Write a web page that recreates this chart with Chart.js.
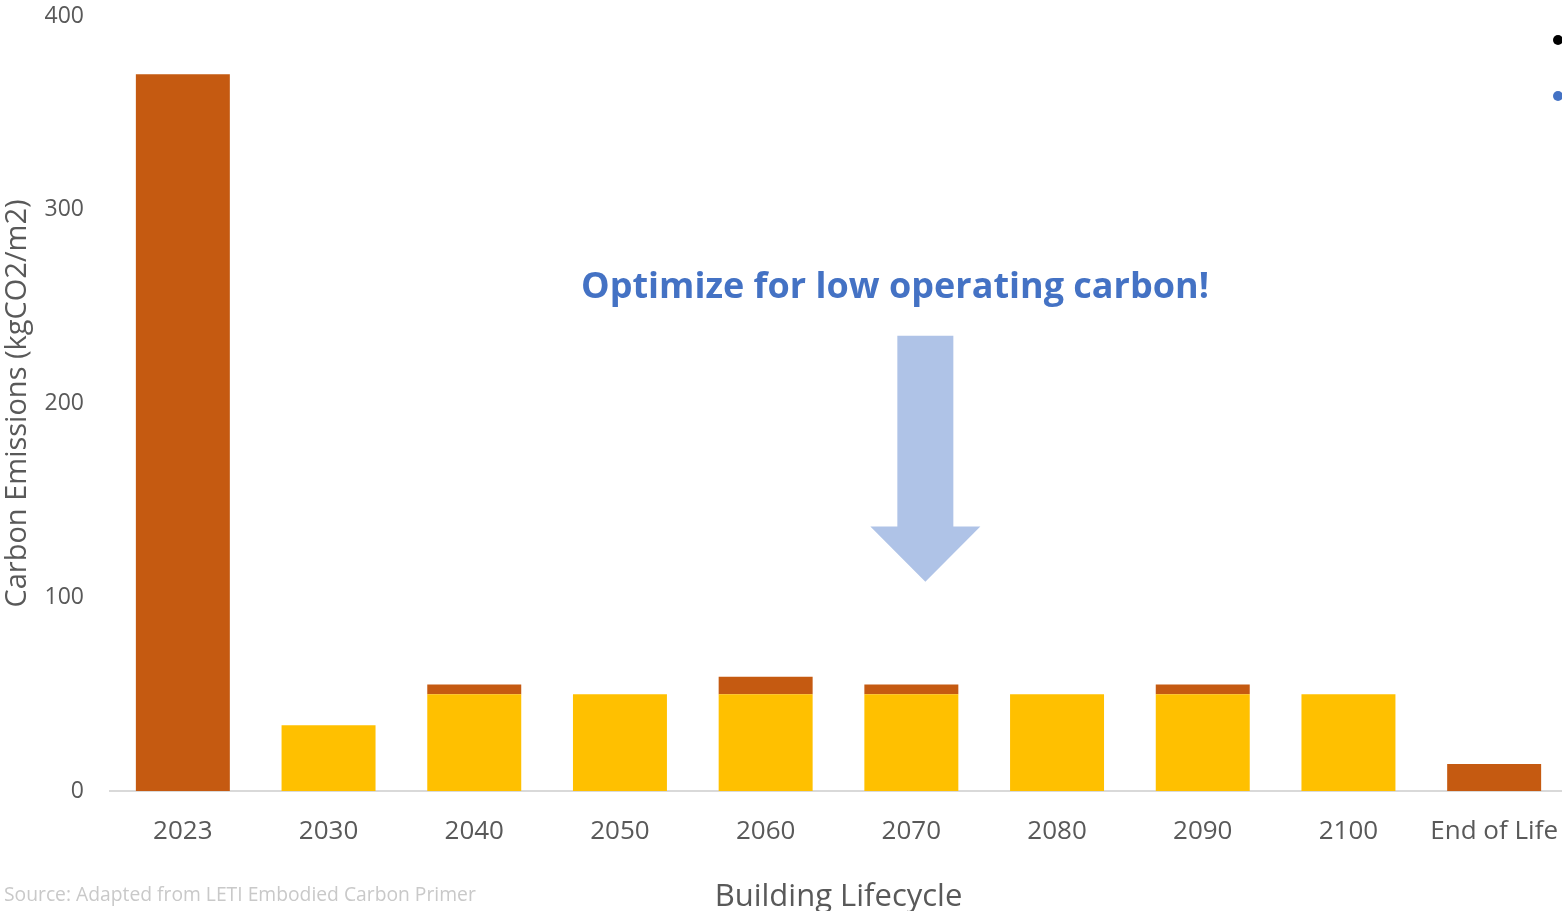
<!doctype html>
<html lang="en">
  <head>
    <meta charset="utf-8">
    <meta name="viewport" content="width=device-width, initial-scale=1">
    <title>Carbon Emissions over Building Lifecycle</title>
    <style>
      html, body { margin: 0; padding: 0; overflow: hidden; background: #fff; }
      #wrap { width: 1570px; height: 911px; position: relative; }
    </style>
  </head>
  <body>
    <div id="wrap"><canvas id="chart"></canvas></div>
  </body>
</html>
<script src="https://cdn.jsdelivr.net/npm/chart.js"></script>
<script>
const labels = ['2023','2030','2040','2050','2060','2070','2080','2090','2100','End of Life'];
const operational = [0, 34, 50, 50, 50, 50, 50, 50, 50, 0];
const embodied = [370, 0, 5, 0, 9, 5, 0, 5, 0, 14];
const yTicks = [0, 100, 200, 300, 400];

const FONT = "'Open Sans', sans-serif";

// headline, arrow, source note and the two clipped marker dots
const extras = {
    id: 'extras',
    afterDatasetsDraw(chart) {
        const { ctx, scales: {x, y} } = chart;
        ctx.save();

        // arrow pointing down at the operating bars
        const cx = x.getPixelForValue(5) + 14;
        const top = y.getPixelForValue(235);
        const neck = y.getPixelForValue(136.5);
        const tip = y.getPixelForValue(108);
        ctx.fillStyle = '#AFC3E7';
        ctx.beginPath();
        ctx.moveTo(cx - 28, top);
        ctx.lineTo(cx + 28, top);
        ctx.lineTo(cx + 28, neck);
        ctx.lineTo(cx + 55, neck);
        ctx.lineTo(cx, tip);
        ctx.lineTo(cx - 55, neck);
        ctx.lineTo(cx - 28, neck);
        ctx.closePath();
        ctx.fill();

        ctx.font = 'bold 36px ' + FONT;
        ctx.fillStyle = '#4472C4';
        ctx.textAlign = 'center';
        ctx.textBaseline = 'middle';
        ctx.fillText('Optimize for low operating carbon!', 895, y.getPixelForValue(259.5));

        ctx.font = '19.3px ' + FONT;
        ctx.fillStyle = '#C9C9C9';
        ctx.textAlign = 'left';
        ctx.fillText('Source: Adapted from LETI Embodied Carbon Primer', 4, 896);

        ctx.fillStyle = '#000';
        ctx.beginPath();
        ctx.arc(1558, 40, 5, 0, Math.PI * 2);
        ctx.fill();
        ctx.fillStyle = '#4472C4';
        ctx.beginPath();
        ctx.arc(1558, 96, 5, 0, Math.PI * 2);
        ctx.fill();
        ctx.restore();
    }
};

new Chart(document.querySelector('#chart'), {
    type: 'bar',
    data: {
        labels: labels,
        datasets: [
            {
                label: 'Operational',
                data: operational,
                backgroundColor: '#FFC000',
                barPercentage: 0.645,
                categoryPercentage: 1
            },
            {
                label: 'Embodied',
                data: embodied,
                backgroundColor: '#C55A11',
                barPercentage: 0.645,
                categoryPercentage: 1
            }
        ]
    },
    options: {
        responsive: true,
        maintainAspectRatio: false,
        animation: false,
        layout: { padding: { top: 16, right: 3, left: 0, bottom: 0 } },
        plugins: {
            legend: { display: false },
            tooltip: { enabled: false }
        },
        scales: {
            x: {
                stacked: true,
                grid: { display: false, drawTicks: false },
                border: { color: '#D9D9D9', width: 2 },
                ticks: { color: '#595959', font: { family: FONT, size: 26 }, padding: 25, maxRotation: 0, autoSkip: false },
                title: {
                    display: true,
                    text: 'Building Lifecycle',
                    color: '#595959',
                    font: { family: FONT, size: 31 },
                    padding: { top: 23, bottom: -5 }
                },
                afterFit(scale) {
                    scale.height = 120;
                    scale.paddingLeft = 0;
                    scale.paddingRight = 0;
                }
            },
            y: {
                stacked: true,
                min: 0,
                max: 400,
                afterBuildTicks(scale) { scale.ticks = yTicks.map(v => ({ value: v })); },
                grid: { display: false, drawTicks: false },
                border: { display: false },
                ticks: { color: '#595959', font: { family: FONT, size: 23 }, padding: 26 },
                title: {
                    display: true,
                    text: 'Carbon Emissions (kgCO2/m2)',
                    color: '#595959',
                    font: { family: FONT, size: 29 },
                    padding: { top: 0, bottom: 0 }
                },
                afterFit(scale) {
                    scale.width = 110;
                    scale.paddingTop = 0;
                    scale.paddingBottom = 0;
                }
            }
        }
    },
    plugins: [extras]
});
</script>
